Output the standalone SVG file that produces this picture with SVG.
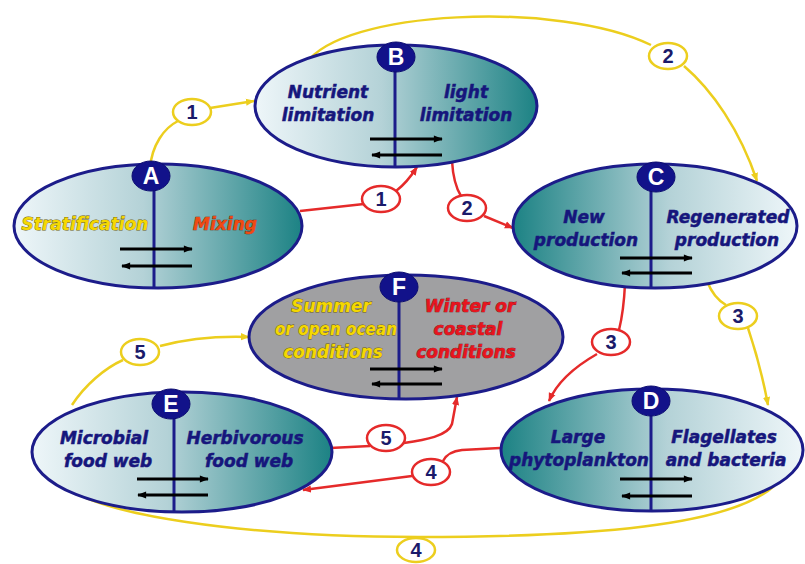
<svg xmlns="http://www.w3.org/2000/svg" width="805" height="564" viewBox="0 0 805 564">
<defs>
  <linearGradient id="gLR" x1="0" y1="0" x2="1" y2="0">
    <stop offset="0" stop-color="#eef6f9"/>
    <stop offset="0.45" stop-color="#b4d2d7"/>
    <stop offset="1" stop-color="#1c8284"/>
  </linearGradient>
  <linearGradient id="gRL" x1="0" y1="0" x2="1" y2="0">
    <stop offset="0" stop-color="#1c8284"/>
    <stop offset="0.55" stop-color="#b4d2d7"/>
    <stop offset="1" stop-color="#eef6f9"/>
  </linearGradient>
  <marker id="ay" viewBox="0 0 10 10" refX="9" refY="5" markerWidth="9" markerHeight="9" markerUnits="userSpaceOnUse" orient="auto"><path d="M0,1 L10,5 L0,9 z" fill="#ecce1e"/></marker>
  <marker id="ar" viewBox="0 0 10 10" refX="9" refY="5" markerWidth="9" markerHeight="9" markerUnits="userSpaceOnUse" orient="auto"><path d="M0,1 L10,5 L0,9 z" fill="#e52a2a"/></marker>
  <marker id="ak" viewBox="0 0 10 10" refX="9" refY="5" markerWidth="10" markerHeight="9" markerUnits="userSpaceOnUse" orient="auto"><path d="M0,1 L10,5 L0,9 z" fill="#000"/></marker>
</defs>
<style>
  .oval{stroke:#1c1c8a;stroke-width:3}
  .grey{fill:#a0a0a2}
  .div{stroke:#1c1c8a;stroke-width:3}
  .fw{stroke:#000;stroke-width:3;marker-end:url(#ak)}
  .badge{fill:#12128a;stroke:#0c0c70;stroke-width:1}
  .bl{font-family:"Liberation Sans",Arial,sans-serif;font-weight:bold;font-size:23px;fill:#fff;text-anchor:middle}
  .t{font-family:"DejaVu Sans",sans-serif;font-weight:bold;font-style:italic;font-size:17px;text-anchor:middle}
  .nv{fill:#16167c;stroke:#16167c;stroke-width:0.5}
  .yl{fill:#f5d800;stroke:#6e5e10;stroke-width:0.8;paint-order:stroke}
  .or{fill:#f04a12;stroke:#7a2000;stroke-width:0.7;paint-order:stroke}
  .rd{fill:#e8141e;stroke:#7a1010;stroke-width:0.7;paint-order:stroke}
  .cy{fill:none;stroke:#ecce1e;stroke-width:2.5}
  .cr{fill:none;stroke:#e52a2a;stroke-width:2.5}
  .ly{fill:#fff;stroke:#ecce1e;stroke-width:2.5}
  .lr{fill:#fff;stroke:#e52a2a;stroke-width:2.5}
  .num{font-family:"Liberation Sans",Arial,sans-serif;font-weight:bold;font-size:20px;fill:#1a1a6a;text-anchor:middle}
</style>
<rect width="805" height="564" fill="#fff"/>

<g id="connectors">
  <path class="cy" d="M150,168 C152,145 164,128 178,121"/>
  <path class="cy" d="M210,108 L254,101" marker-end="url(#ay)"/>
  <path class="cy" d="M306,64 C340,10 560,0 651,45"/>
  <path class="cy" d="M684,66 C712,90 740,130 757,181" marker-end="url(#ay)"/>
  <path class="cy" d="M707,281 C712,294 719,301 726,305"/>
  <path class="cy" d="M748,328 C756,352 763,378 768,405" marker-end="url(#ay)"/>
  <path class="cy" d="M58,480 C88,516 250,537 418,537 C590,537 730,526 774,486"/>
  <path class="cy" d="M72,405 C85,385 105,368 123,360"/>
  <path class="cy" d="M160,346 C190,338 220,336 249,337" marker-end="url(#ay)"/>
  <path class="cr" d="M300,211 L364,204"/>
  <path class="cr" d="M396,191 C404,185 410,178 417,167" marker-end="url(#ar)"/>
  <path class="cr" d="M452,161 C453,178 456,188 461,196"/>
  <path class="cr" d="M484,216 L513,228" marker-end="url(#ar)"/>
  <path class="cr" d="M625,284 C624,305 622,318 619,330"/>
  <path class="cr" d="M597,354 C576,366 558,380 549,401" marker-end="url(#ar)"/>
  <path class="cr" d="M500,448 L462,450 C452,451 446,455 443,461"/>
  <path class="cr" d="M412,476 L303,490" marker-end="url(#ar)"/>
  <path class="cr" d="M330,448 L370,446"/>
  <path class="cr" d="M404,443 C425,440 448,436 452,424 L457,397" marker-end="url(#ar)"/>

  <ellipse class="ly" cx="192" cy="112" rx="19" ry="13"/><text class="num" x="192" y="119">1</text>
  <ellipse class="ly" cx="668" cy="56" rx="19" ry="13"/><text class="num" x="668" y="63">2</text>
  <ellipse class="ly" cx="738" cy="316" rx="19" ry="13"/><text class="num" x="738" y="323">3</text>
  <ellipse class="ly" cx="416" cy="550" rx="19" ry="12"/><text class="num" x="416" y="557">4</text>
  <ellipse class="ly" cx="140" cy="352" rx="19" ry="13"/><text class="num" x="140" y="359">5</text>
  <ellipse class="lr" cx="381" cy="199" rx="19" ry="13"/><text class="num" x="381" y="206">1</text>
  <ellipse class="lr" cx="467" cy="208" rx="19" ry="13"/><text class="num" x="467" y="215">2</text>
  <ellipse class="lr" cx="611" cy="342" rx="19" ry="13"/><text class="num" x="611" y="349">3</text>
  <ellipse class="lr" cx="431" cy="472" rx="19" ry="13"/><text class="num" x="431" y="479">4</text>
  <ellipse class="lr" cx="386" cy="438" rx="19" ry="13"/><text class="num" x="386" y="445">5</text>
</g>

<g id="node-A">
  <ellipse class="oval" cx="158" cy="226" rx="144" ry="62" fill="url(#gLR)"/>
  <line class="div" x1="154" y1="176" x2="154" y2="288"/>
  <line class="fw" x1="120" y1="249" x2="192" y2="249"/>
  <line class="fw" x1="192" y1="266" x2="122" y2="266"/>
  <ellipse class="badge" cx="151" cy="176" rx="19" ry="15"/>
  <text class="bl" x="151" y="184">A</text>
  <text class="t yl" x="85" y="230">Stratification</text>
  <text class="t or" x="225" y="230">Mixing</text>
</g>

<g id="node-B">
  <ellipse class="oval" cx="396" cy="106" rx="141" ry="61" fill="url(#gLR)"/>
  <line class="div" x1="395" y1="57" x2="395" y2="167"/>
  <line class="fw" x1="370" y1="139" x2="442" y2="139"/>
  <line class="fw" x1="442" y1="155" x2="372" y2="155"/>
  <ellipse class="badge" cx="396" cy="57" rx="19" ry="15"/>
  <text class="bl" x="396" y="65">B</text>
  <text class="t nv" x="328" y="98">Nutrient</text>
  <text class="t nv" x="328" y="121">limitation</text>
  <text class="t nv" x="466" y="98">light</text>
  <text class="t nv" x="466" y="121">limitation</text>
</g>

<g id="node-C">
  <ellipse class="oval" cx="655" cy="226" rx="142" ry="62" fill="url(#gRL)"/>
  <line class="div" x1="651" y1="177" x2="651" y2="288"/>
  <line class="fw" x1="620" y1="258" x2="692" y2="258"/>
  <line class="fw" x1="692" y1="273" x2="622" y2="273"/>
  <ellipse class="badge" cx="656" cy="177" rx="19" ry="15"/>
  <text class="bl" x="656" y="185">C</text>
  <text class="t nv" x="584" y="223">New</text>
  <text class="t nv" x="586" y="246">production</text>
  <text class="t nv" x="728" y="223">Regenerated</text>
  <text class="t nv" x="727" y="246">production</text>
</g>

<g id="node-F">
  <ellipse class="oval grey" cx="406" cy="337" rx="157" ry="62"/>
  <line class="div" x1="399" y1="287" x2="399" y2="399"/>
  <line class="fw" x1="370" y1="369" x2="442" y2="369"/>
  <line class="fw" x1="442" y1="384" x2="372" y2="384"/>
  <ellipse class="badge" cx="399" cy="287" rx="19" ry="15"/>
  <text class="bl" x="399" y="295">F</text>
  <text class="t yl" x="331" y="312">Summer</text>
  <text class="t yl" x="336" y="335" textLength="122" lengthAdjust="spacingAndGlyphs">or open ocean</text>
  <text class="t yl" x="333" y="358">conditions</text>
  <text class="t rd" x="470" y="312">Winter or</text>
  <text class="t rd" x="468" y="335">coastal</text>
  <text class="t rd" x="466" y="358">conditions</text>
</g>

<g id="node-E">
  <ellipse class="oval" cx="182" cy="452" rx="150" ry="60" fill="url(#gLR)"/>
  <line class="div" x1="174" y1="404" x2="174" y2="512"/>
  <line class="fw" x1="137" y1="479" x2="208" y2="479"/>
  <line class="fw" x1="208" y1="495" x2="138" y2="495"/>
  <ellipse class="badge" cx="171" cy="404" rx="19" ry="15"/>
  <text class="bl" x="171" y="412">E</text>
  <text class="t nv" x="104" y="444">Microbial</text>
  <text class="t nv" x="108" y="467">food web</text>
  <text class="t nv" x="245" y="444">Herbivorous</text>
  <text class="t nv" x="249" y="467">food web</text>
</g>

<g id="node-D">
  <ellipse class="oval" cx="652" cy="450" rx="151" ry="61" fill="url(#gRL)"/>
  <line class="div" x1="651" y1="401" x2="651" y2="511"/>
  <line class="fw" x1="620" y1="479" x2="692" y2="479"/>
  <line class="fw" x1="692" y1="496" x2="622" y2="496"/>
  <ellipse class="badge" cx="651" cy="401" rx="19" ry="15"/>
  <text class="bl" x="651" y="409">D</text>
  <text class="t nv" x="578" y="443">Large</text>
  <text class="t nv" x="579" y="466">phytoplankton</text>
  <text class="t nv" x="724" y="443">Flagellates</text>
  <text class="t nv" x="726" y="466">and bacteria</text>
</g>
</svg>
